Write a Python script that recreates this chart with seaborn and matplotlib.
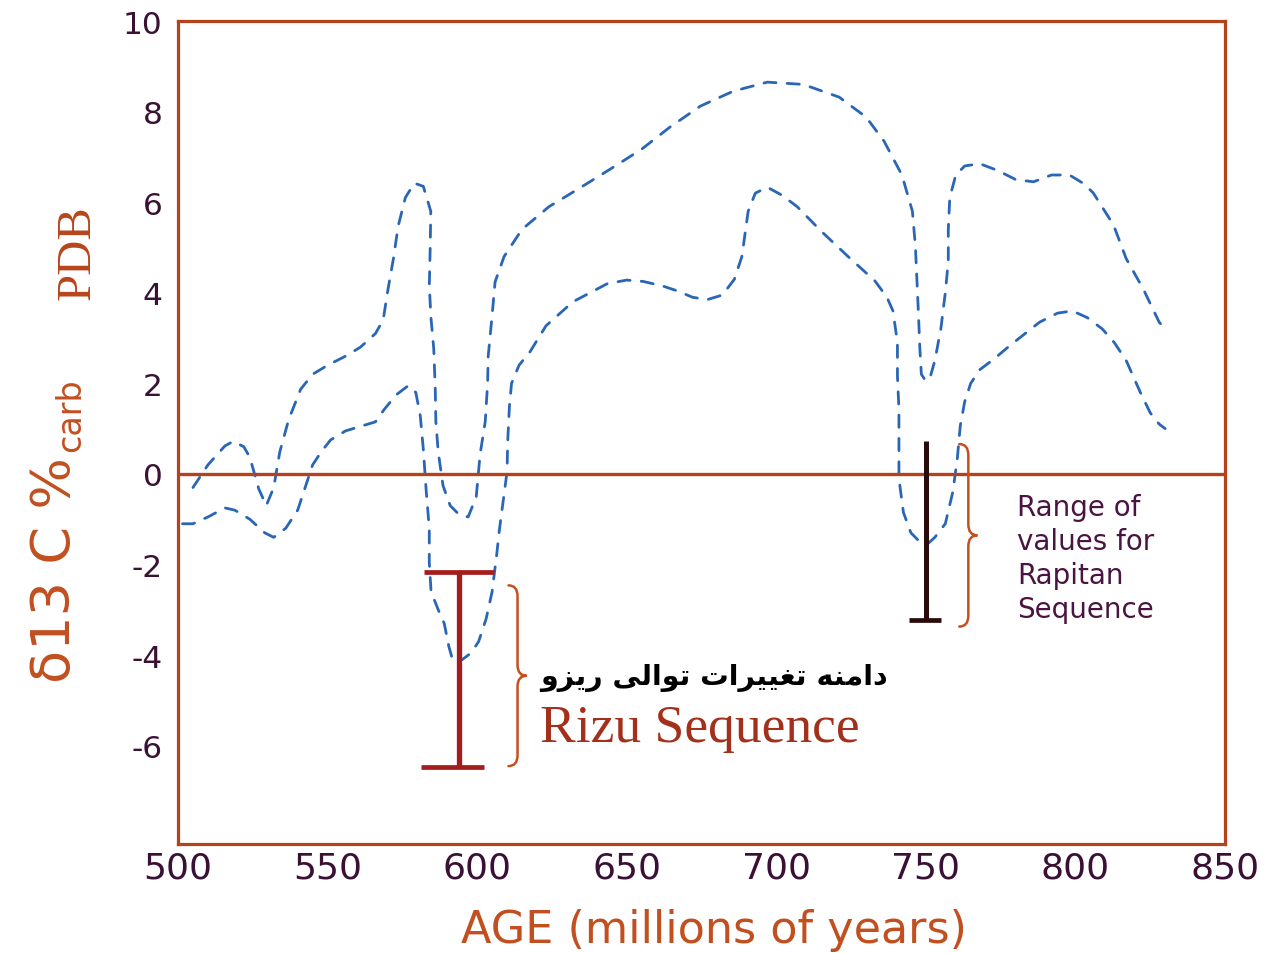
import matplotlib
matplotlib.use("Agg")
import matplotlib.pyplot as plt
import seaborn as sns
import numpy as np
import pandas as pd
from matplotlib.path import Path
from matplotlib.patches import PathPatch

# ---------------- data ----------------
upper_age = [505, 510, 515.7, 518.5, 522, 524, 527, 529.5, 532, 534, 537, 541, 545, 550, 556, 561,
             566, 568.6, 570, 572, 573.6, 576, 579, 582, 584.5, 584.3, 584, 584.6, 585.5, 586, 586.2,
             587, 588.6, 591, 594, 597, 599.7, 601, 602.7, 603.5, 603.7, 605, 606, 609, 615, 624, 634,
             644.5, 655, 664.5, 674.6, 685.6, 697, 709, 721, 730, 736, 742, 745.5, 746.5, 747, 747.5,
             748, 748.5, 750, 751.5, 753, 755, 756.5, 757.5, 757.5, 758, 760, 763, 768, 774, 780, 786,
             792, 798, 803, 806, 812.7, 817, 822.7, 828, 830]
upper_d13c = [-0.3, 0.2, 0.62, 0.72, 0.6, 0.37, -0.33, -0.7, -0.3, 0.48, 1.2, 1.87, 2.2, 2.4, 2.6, 2.8,
              3.1, 3.4, 4.0, 4.75, 5.47, 6.1, 6.42, 6.35, 5.8, 4.97, 4.15, 3.42, 2.76, 1.88, 1.15,
              0.48, -0.26, -0.7, -0.9, -0.95, -0.5, 0.44, 1.15, 2.0, 2.6, 3.5, 4.24, 4.8, 5.4, 5.9, 6.3,
              6.73, 7.17, 7.66, 8.12, 8.45, 8.65, 8.6, 8.32, 7.88, 7.35, 6.6, 5.8, 5.03, 4.3, 3.57,
              2.76, 2.2, 2.05, 2.15, 2.5, 3.2, 4.0, 4.7, 5.4, 6.1, 6.6, 6.8, 6.85, 6.7, 6.5, 6.45,
              6.6, 6.6, 6.4, 6.2, 5.5, 4.75, 4.08, 3.35, 3.2]

lower_age = [501.5, 505, 510, 515.7, 519, 524, 529, 532, 536, 540, 542.5, 545, 548, 551, 556, 561, 566,
             569, 573, 577, 579.5, 581, 582, 583, 584, 584, 584.6, 587, 589, 590.5, 592, 595, 598, 600.5,
             603, 605, 606.5, 607.5, 608.7, 610, 610.2, 610.8, 611.5, 614, 617.7, 623, 632, 643.5, 650,
             655.5, 662, 667, 672, 677, 682, 686, 688.5, 690.6, 693, 697, 702, 707, 715, 724, 733, 737,
             739, 740.5, 740.5, 741, 741, 741, 742.5, 745, 748, 750.5, 753, 756.5, 759, 760.5, 761.5,
             763, 765, 768, 773, 778, 788, 794, 799, 804, 809, 813, 817, 821.7, 825, 828, 830]
lower_d13c = [-1.1, -1.1, -0.95, -0.75, -0.8, -1.0, -1.3, -1.4, -1.2, -0.8, -0.3, 0.2, 0.5, 0.75, 0.95,
              1.05, 1.15, 1.43, 1.75, 1.95, 1.8, 1.28, 0.55, -0.4, -1.2, -1.95, -2.6, -3.0, -3.3, -3.8,
              -4.15, -4.1, -3.95, -3.7, -3.2, -2.6, -1.8, -1.2, -0.6, 0.05, 0.7, 1.5, 2.0, 2.4, 2.7, 3.27,
              3.8, 4.2, 4.28, 4.25, 4.15, 4.04, 3.9, 3.85, 3.95, 4.3, 4.8, 5.8, 6.2, 6.33, 6.15, 5.9,
              5.36, 4.8, 4.26, 3.9, 3.6, 2.9, 2.16, 1.43, 0.7, -0.1, -0.85, -1.3, -1.5, -1.55, -1.4,
              -1.1, -0.4, 0.33, 1.06, 1.6, 2.0, 2.3, 2.55, 2.83, 3.35, 3.55, 3.6, 3.45, 3.2, 2.9, 2.5,
              1.8, 1.35, 1.1, 1.0]

rizu_age = 594
rizu_range = [-6.47, -2.16]
rapitan_age = 750
rapitan_range = [-3.22, 0.73]

x_ticks = [500, 550, 600, 650, 700, 750, 800, 850]
y_ticks = [-6, -4, -2, 0, 2, 4, 6, 8, 10]

persian_label = "دامنه تغییرات توالی ریزو"
rizu_label = "Rizu Sequence"
rapitan_label = "Range of\nvalues for\nRapitan\nSequence"
x_label = "AGE (millions of years)"

# -------------- persian shaping (presentation forms, visual order) --------------
FORMS = {
    'ا': ('\uFE8D', '\uFE8E', None, None),
    'د': ('\uFEA9', '\uFEAA', None, None),
    'ر': ('\uFEAD', '\uFEAE', None, None),
    'ز': ('\uFEAF', '\uFEB0', None, None),
    'و': ('\uFEED', '\uFEEE', None, None),
    'م': ('\uFEE1', '\uFEE2', '\uFEE3', '\uFEE4'),
    'ن': ('\uFEE5', '\uFEE6', '\uFEE7', '\uFEE8'),
    'ه': ('\uFEE9', '\uFEEA', '\uFEEB', '\uFEEC'),
    'ت': ('\uFE95', '\uFE96', '\uFE97', '\uFE98'),
    'غ': ('\uFECD', '\uFECE', '\uFECF', '\uFED0'),
    'ل': ('\uFEDD', '\uFEDE', '\uFEDF', '\uFEE0'),
    '\u06CC': ('\uFBFC', '\uFBFD', '\uFBFE', '\uFBFF'),
    '\u064A': ('\uFEF1', '\uFEF2', '\uFEF3', '\uFEF4'),
}


def shape_rtl(s):
    out = []
    for i, ch in enumerate(s):
        if ch not in FORMS:
            out.append(ch)
            continue
        prev = s[i - 1] if i > 0 else ''
        nxt = s[i + 1] if i + 1 < len(s) else ''
        iso, fin, ini, med = FORMS[ch]
        jp = prev in FORMS and FORMS[prev][2] is not None
        jn = ini is not None and nxt in FORMS
        if jp and jn:
            out.append(med)
        elif jp:
            out.append(fin)
        elif jn:
            out.append(ini)
        else:
            out.append(iso)
    return ''.join(reversed(out))


# ---------------- style ----------------
sns.set_style("white")
plt.rcParams['font.family'] = ['DejaVu Sans']

SPINE = '#b5421c'
TICKLBL = '#3a1034'
LABEL = '#c24f1f'
BLUE = '#2a66b6'

fig = plt.figure(figsize=(12.7, 9.54), dpi=100)
ax = fig.add_axes([178 / 1270, 1 - 845 / 954, (1225 - 178) / 1270, (845 - 22) / 954])

df_u = pd.DataFrame({"age": upper_age, "d13c": upper_d13c})
df_l = pd.DataFrame({"age": lower_age, "d13c": lower_d13c})
for df in (df_u, df_l):
    sns.lineplot(data=df, x="age", y="d13c", sort=False, estimator=None, ax=ax,
                 color=BLUE, linewidth=2.0)
    ax.lines[-1].set_dashes((4.4, 4.0))
    ax.lines[-1].set_dash_capstyle('round')

ax.axhline(0, color=SPINE, lw=2.4, zorder=3)

ax.set_xlim(500, 850)
ax.set_ylim(-8.17, 10)
ax.set_xticks(x_ticks)
ax.set_yticks(y_ticks)
ax.set_xticklabels([str(v) for v in x_ticks])
ax.set_yticklabels([str(v) for v in y_ticks])

for s in ax.spines.values():
    s.set_visible(True)
    s.set_color(SPINE)
    s.set_linewidth(2.3)

ax.tick_params(axis='x', direction='in', length=25, width=1.8, color=SPINE,
               labelsize=26, labelcolor=TICKLBL, pad=5)
ax.tick_params(axis='y', direction='in', length=25, width=2.2, color=SPINE,
               labelsize=22.5, labelcolor=TICKLBL, pad=11)

ax.set_xlabel(x_label, fontsize=32, color=LABEL, va='top')
ax.xaxis.set_label_coords((714 - 178) / 1047, (845 - 909) / 823)
ax.set_ylabel("")

# y-axis label composite (rotated)
fig.text(70 / 1270, 1 - 683 / 954, "δ13 C %", rotation=90, rotation_mode='anchor',
         ha='left', va='baseline', fontsize=39, color=LABEL)
fig.text(80 / 1270, 1 - 452 / 954, "carb", rotation=90, rotation_mode='anchor',
         ha='left', va='baseline', fontsize=24, color=LABEL)
fig.text(90 / 1270, 1 - 300 / 954, "PDB", rotation=90, rotation_mode='anchor',
         ha='left', va='baseline', fontsize=35, color='#b8451c', family=['Liberation Serif'])

# Rizu range bar
RIZU = '#a51c1c'
ax.vlines(rizu_age, rizu_range[0], rizu_range[1], color=RIZU, lw=3.8, zorder=4)
ax.hlines(rizu_range[1], rizu_age - 11.7, rizu_age + 11.7, color=RIZU, lw=3.4, zorder=4)
ax.hlines(rizu_range[0], rizu_age - 12.7, rizu_age + 8.4, color=RIZU, lw=3.4, zorder=4)

# Rapitan range bar
RAP = '#2b0a0a'
ax.vlines(rapitan_age, rapitan_range[0], rapitan_range[1], color=RAP, lw=3.6, zorder=4)
ax.hlines(rapitan_range[0], rapitan_age - 5.5, rapitan_age + 5.0, color=RAP, lw=3.4, zorder=4)


def brace(ax, x, y0, y1, w, color, lw=1.8):
    """Right-pointing curly brace from y0 (bottom) to y1 (top) at x."""
    ym = (y0 + y1) / 2
    h = (y1 - y0)
    c = h * 0.06
    verts = [
        (x - w * 0.55, y1), (x, y1), (x, y1 - c),
        (x, ym + c),
        (x, ym), (x + w * 0.55, ym),
        (x, ym), (x, ym - c),
        (x, y0 + c),
        (x, y0), (x - w * 0.55, y0),
    ]
    codes = [Path.MOVETO, Path.CURVE3, Path.CURVE3, Path.LINETO,
             Path.CURVE3, Path.CURVE3, Path.CURVE3, Path.CURVE3,
             Path.LINETO, Path.CURVE3, Path.CURVE3]
    ax.add_patch(PathPatch(Path(verts, codes), fill=False, edgecolor=color, lw=lw,
                           capstyle='round', zorder=4))


BRACE = '#c4501e'
brace(ax, rizu_age + 19.5, rizu_range[0] + 0.02, rizu_range[1] - 0.3, 5.5, BRACE)
brace(ax, rapitan_age + 14.2, rapitan_range[0] - 0.15, rapitan_range[1] - 0.07, 5.5, BRACE)

# texts
ax.text(621, -4.48, shape_rtl(persian_label), fontsize=20.5, fontweight='bold', color='black',
        ha='left', va='center', family=['DejaVu Sans'])
ax.text(621, -5.9, rizu_label, fontsize=38.5, color='#a3301a', ha='left', va='baseline',
        family=['Liberation Serif'])
ax.text(780.6, -0.42, rapitan_label, fontsize=20, color='#4b1440', ha='left', va='top',
        linespacing=1.28, family=['DejaVu Sans'])

fig.savefig("out.png", dpi=100, facecolor='white')
